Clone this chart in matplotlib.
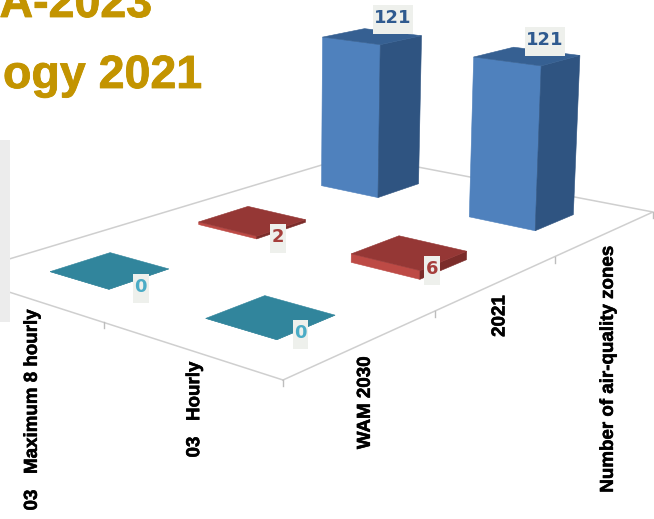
import numpy as np
import matplotlib
matplotlib.use("Agg")
import matplotlib.pyplot as plt
import matplotlib.patheffects as pe
from matplotlib.patches import Polygon, Rectangle
from matplotlib.path import Path

# Chart data
columns = ["WAM 2030", "2021", "Number of air-quality zones"]
rows = ["03   Hourly", "03   Maximum 8 hourly"]
hourly_values = [0, 6, 121]
max8h_values = [0, 2, 121]
heading_lines = ["A-2023", "ogy 2021"]

# Styling per column: (top, light face, dark face, label colour)
column_styles = [
    ("#31859c", "#2f7f95", "#2a7488", "#4bacc6"),
    ("#953735", "#bd4a45", "#7b2c2a", "#a63f3c"),
    ("#366092", "#4f81bd", "#2f5481", "#2f5a8f"),
]
# Label offsets from the top centre of each bar, in points (row, column)
label_offsets = [
    [(21.5, -11.5), (16.5, -12), (13, 12)],
    [(22.5, -12), (18.5, -11.5), (15, 13)],
]
BAR_HALF_U = 0.19
BAR_HALF_V = 0.20


def label_box(x0, y0, w, h, mutation_size):
    # Tall plate behind a value label, reaching further below the digit than above it
    left, right = x0 - 1.5, x0 + w + 1.5
    mid = y0 + h / 2
    low, high = mid - 16, mid + 13
    return Path([(left, low), (right, low), (right, high), (left, high), (left, low)], closed=True)


def solve_floor(src, dst):
    # Homography of the chart floor, from grid units to canvas pixels
    A, b = [], []
    for (u, v), (x, y) in zip(src, dst):
        A.append([u, v, 1, 0, 0, 0, -u * x, -v * x])
        b.append(x)
        A.append([0, 0, 0, u, v, 1, -u * y, -v * y])
        b.append(y)
    h = np.linalg.solve(np.array(A, float), np.array(b, float))
    return np.append(h, 1).reshape(3, 3)


NU, NV = len(columns), len(rows)
H = solve_floor(
    [(0, 0), (NU, 0), (0, NV), (NU, NV)],
    [(283, 380), (653, 212), (-44, 275), (355, 155)],
)
# Vertical axis direction in homogeneous form, with a far vanishing point below
SCALE = -1.78 / 7400
Z_COL = SCALE * np.array([268.0, 7600.0, 1.0])


def project(u, v, z=0.0):
    p = H @ np.array([u, v, 1.0]) + z * Z_COL
    return p[0] / p[2], p[1] / p[2]


fig = plt.figure(figsize=(6.54, 5.19), dpi=100)
ax = fig.add_axes([0, 0, 1, 1])
ax.set_xlim(0, 654)
ax.set_ylim(519, 0)
ax.axis("off")

# Floor outline and ticks
floor_color = "#cfcfcf"
outline = [project(0, 0), project(NU, 0), project(NU, NV), project(0, NV), project(0, 0)]
ax.plot(*zip(*outline), color=floor_color, lw=1.1, zorder=1)
for i in range(NU + 1):
    x, y = project(i, 0)
    ax.plot([x, x], [y, y + 6], color="#bdbdbd", lw=1.0, zorder=1)
for j in range(1, NV):
    x, y = project(0, j)
    ax.plot([x, x], [y, y + 6], color="#bdbdbd", lw=1.0, zorder=1)

# Bars, drawn from the back of the floor to the front
values = [hourly_values, max8h_values]
order = sorted(((j, i) for j in range(NV) for i in range(NU)), key=lambda ji: (-ji[0], ji[1]))
zo = 2
for j, i in order:
    val = values[j][i]
    top_c, light_c, dark_c, text_c = column_styles[i]
    uc, vc = i + 0.5, j + 0.5
    u0, u1 = uc - BAR_HALF_U, uc + BAR_HALF_U
    v0, v1 = vc - BAR_HALF_V, vc + BAR_HALF_V
    # Visible faces: the light one along v at u0, the dark one along u at v0
    light_face = [project(u0, v0), project(u0, v1), project(u0, v1, val), project(u0, v0, val)]
    dark_face = [project(u0, v0), project(u1, v0), project(u1, v0, val), project(u0, v0, val)]
    top = [project(u0, v0, val), project(u1, v0, val), project(u1, v1, val), project(u0, v1, val)]
    for pts, c in ((light_face, light_c), (dark_face, dark_c), (top, top_c)):
        ax.add_patch(Polygon(pts, closed=True, fc=c, ec=c, lw=0.4, zorder=zo))
    ax.annotate(
        str(val), xy=project(uc, vc, val), xytext=label_offsets[j][i],
        textcoords="offset points", ha="center", va="center",
        color=text_c, fontsize=13, fontweight="bold", family="DejaVu Sans",
        bbox=dict(boxstyle=label_box, fc="#eef0ec", ec="none"),
        zorder=zo + 1,
    )
    zo += 2

# Category labels along the two front edges of the floor
label_font = dict(family="Liberation Sans", fontweight="bold", fontsize=13.5, color="#000000",
                  rotation=90, ha="center", va="top", zorder=60,
                  path_effects=[pe.withStroke(linewidth=0.4, foreground="#000000")])
for i, name in enumerate(columns):
    x, y = project(i + 0.5, 0)
    ax.text(x + 2, y + 13, name, **label_font)
for j, name in enumerate(rows):
    x, y = project(0, j + 0.5)
    ax.text(x + 6, y + 12, name, **label_font)

# Slide background elements: side panel and clipped heading
ax.add_patch(Rectangle((0, 140), 10, 182, fc="#ececec", ec="none", zorder=50))
heading_font = dict(family="Liberation Sans", fontweight="bold", fontsize=33.5, color="#c39400", zorder=70,
                    path_effects=[pe.withStroke(linewidth=0.6, foreground="#c39400")])
ax.text(152, 17, heading_lines[0], ha="right", va="baseline", **heading_font)
ax.text(202, 88, heading_lines[1], ha="right", va="baseline", **heading_font)

fig.savefig("out.png", dpi=100)
